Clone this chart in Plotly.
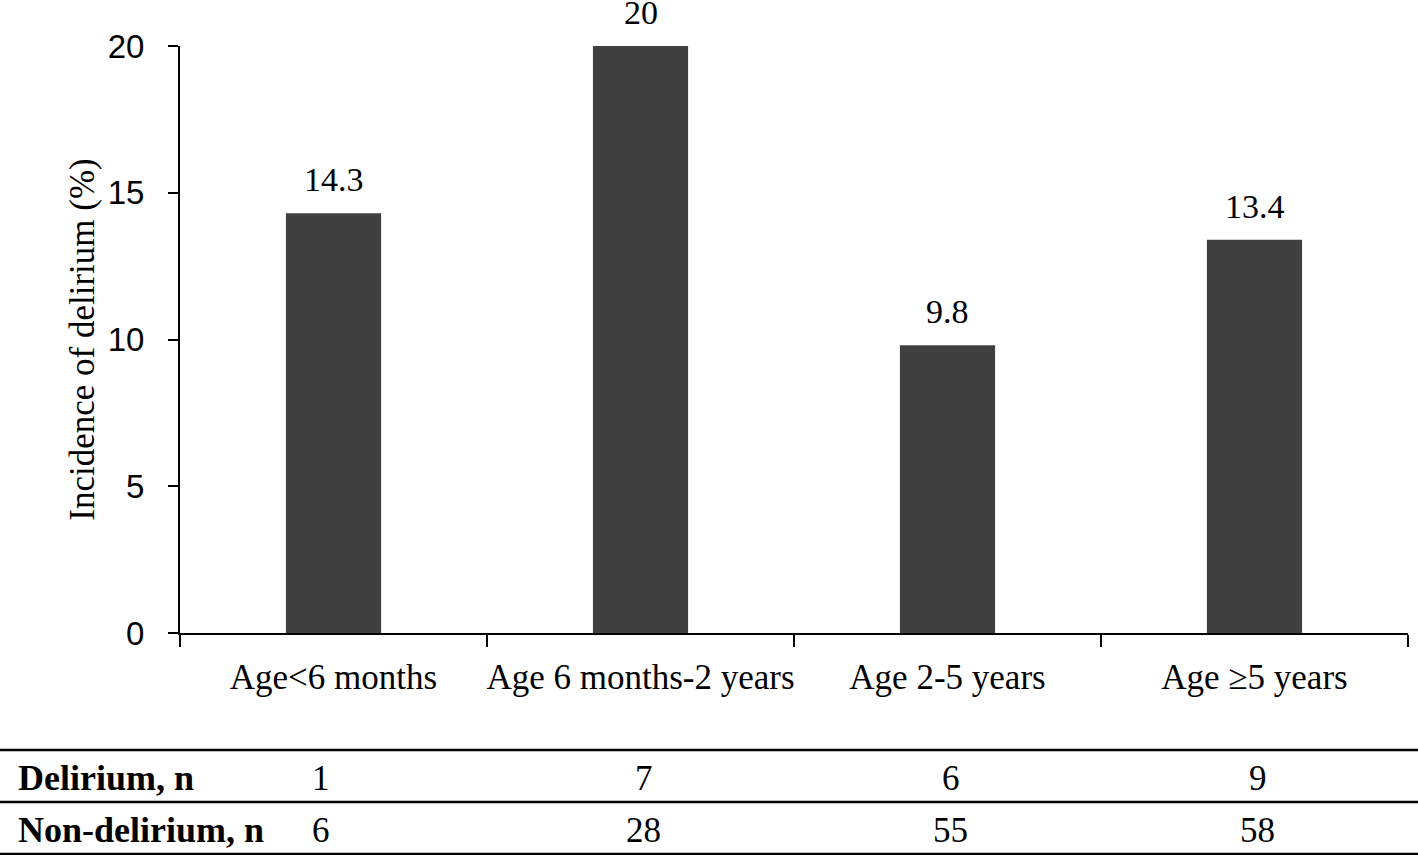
import plotly.graph_objects as go

categories = ["Age<6 months", "Age 6 months-2 years", "Age 2-5 years", "Age \u22655 years"]
incidence = [14.3, 20, 9.8, 13.4]
value_labels = ["14.3", "20", "9.8", "13.4"]
row_labels = ["Delirium, n", "Non-delirium, n"]
delirium_n = [1, 7, 6, 9]
non_delirium_n = [6, 28, 55, 58]
y_ticks = [0, 5, 10, 15, 20]

SERIF = "Liberation Serif, Times New Roman, serif"
SANS = "Liberation Sans, Arial, sans-serif"

W, H = 1418, 855
L, R, T, B = 180, 10, 46, 222
PW, PH = W - L - R, H - T - B

def px_x(px):
    return (px - L) / PW

def px_y(py):
    return (H - B - py) / PH

xs = list(range(len(categories)))

fig = go.Figure()
fig.add_trace(go.Bar(
    x=xs, y=incidence, width=0.31,
    marker=dict(color="#404040", line=dict(width=0)),
    showlegend=False, hoverinfo="skip",
))

annotations = []
for i, (v, t) in enumerate(zip(incidence, value_labels)):
    annotations.append(dict(x=i, y=v, xref="x", yref="y", text=t, showarrow=False,
                            yanchor="bottom", yshift=13,
                            font=dict(family=SERIF, size=34, color="black")))

row_y = [px_y(778), px_y(830)]
for r, (lab, vals) in enumerate(zip(row_labels, [delirium_n, non_delirium_n])):
    annotations.append(dict(x=px_x(16), y=row_y[r], xref="paper", yref="paper",
                            text="<b>" + lab + "</b>", showarrow=False,
                            xanchor="left", yanchor="middle",
                            font=dict(family=SERIF, size=36, color="black")))
    for i, v in enumerate(vals):
        xi = i - 0.04 if i == 0 else i + 0.01
        annotations.append(dict(x=xi, y=row_y[r], xref="x", yref="paper",
                                text=str(v), showarrow=False,
                                xanchor="center", yanchor="middle",
                                font=dict(family=SERIF, size=35, color="black")))

shapes = []
for py in [750, 802, 854]:
    shapes.append(dict(type="line", xref="paper", yref="paper",
                       x0=px_x(0), x1=px_x(W), y0=px_y(py), y1=px_y(py),
                       line=dict(color="black", width=2.5)))

fig.update_layout(
    width=W, height=H,
    margin=dict(l=L, r=R, t=T, b=B, autoexpand=False),
    plot_bgcolor="white", paper_bgcolor="white",
    annotations=annotations, shapes=shapes,
    xaxis=dict(
        range=[-0.5, 3.5], tickmode="array", tickvals=xs, ticktext=categories,
        ticks="", showgrid=False, zeroline=False,
        showline=True, linecolor="black", linewidth=2,
        tickfont=dict(family=SERIF, size=35, color="black"),
        ticklabelstandoff=12,
        minor=dict(tickmode="array", tickvals=[-0.5, 0.5, 1.5, 2.5, 3.5],
                   ticks="outside", ticklen=12, tickwidth=2, tickcolor="black",
                   showgrid=False),
    ),
    yaxis=dict(
        range=[0, 20], tickmode="array", tickvals=y_ticks,
        ticks="outside", ticklen=10, tickwidth=2, tickcolor="black",
        showgrid=False, zeroline=False,
        showline=True, linecolor="black", linewidth=2,
        tickfont=dict(family=SANS, size=33, color="black"),
        ticklabelstandoff=17,
        title=dict(text="Incidence of delirium (%)", standoff=2,
                   font=dict(family=SERIF, size=35, color="black")),
    ),
    bargap=0.69,
)

fig.write_html("out.html", config={"displayModeBar": False},
               post_script="document.body.style.margin='0';document.body.style.padding='0';")
